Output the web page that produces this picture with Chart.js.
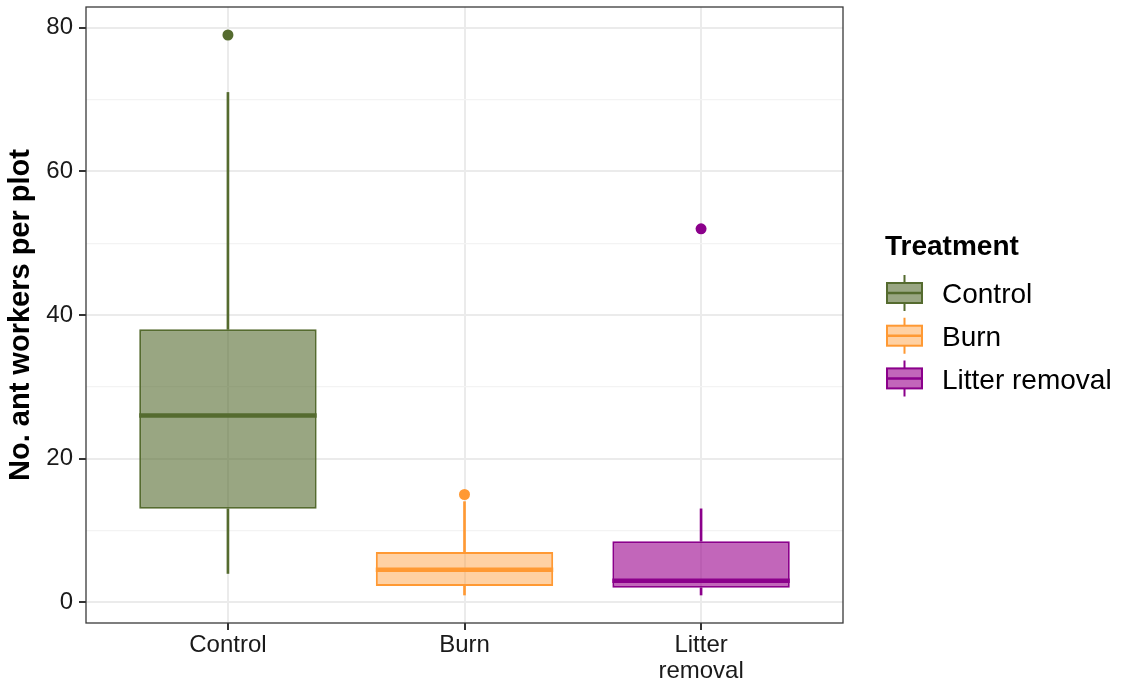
<!DOCTYPE html>
<html>
<head>
<meta charset="utf-8">
<script src="https://cdn.jsdelivr.net/npm/chart.js@4"></script>
<style>
  html, body { margin: 0; padding: 0; background: #ffffff; }
  #wrap { width: 1128px; height: 690px; }
</style>
</head>
<body>
<div id="wrap"><canvas id="chart" width="1128" height="690"></canvas></div>
<script>
// Ant worker counts per plot, summarised as box plots per treatment
const treatments = ['Control', 'Burn', 'Litter removal'];
const axisLabels = [['Control'], ['Burn'], ['Litter', 'removal']];
const whiskerLow = [4, 1, 1];
const lowerQuartile = [13, 2.25, 2];
const medians = [26, 4.5, 3];
const upperQuartile = [38, 7, 8.5];
const whiskerHigh = [71, 14, 13];
const outlierValues = [79, 15, 52];
const yMajorTicks = [0, 20, 40, 60, 80];
const yMinorTicks = [10, 30, 50, 70];

const lineColors = ['#556B2F', '#FF9933', '#8B008B'];
const fillColors = ['rgba(85,107,47,0.6)', 'rgba(255,153,51,0.45)', 'rgba(153,0,140,0.6)'];
const FONT = "'Liberation Sans', Arial, Helvetica, sans-serif";

Chart.defaults.font.family = FONT;
Chart.defaults.color = '#1a1a1a';

const positions = treatments.map((_, i) => i + 1);

const boxSets = treatments.map((name, i) => ({
  type: 'bar',
  label: name,
  data: [{ x: positions[i], y: [lowerQuartile[i], upperQuartile[i]] }],
  backgroundColor: fillColors[i],
  borderColor: lineColors[i],
  borderWidth: 2,
  borderSkipped: false,
  grouped: false,
  categoryPercentage: 1,
  barPercentage: 0.75,
  order: 2
}));

const lowerWhiskers = {
  type: 'bar',
  label: 'lower whisker',
  data: positions.map((p, i) => ({ x: p, y: [whiskerLow[i], lowerQuartile[i]] })),
  backgroundColor: lineColors,
  borderWidth: 0,
  barThickness: 2,
  grouped: false,
  order: 3
};

const upperWhiskers = {
  type: 'bar',
  label: 'upper whisker',
  data: positions.map((p, i) => ({ x: p, y: [upperQuartile[i], whiskerHigh[i]] })),
  backgroundColor: lineColors,
  borderWidth: 0,
  barThickness: 2,
  grouped: false,
  order: 3
};

const outlierSet = {
  type: 'scatter',
  label: 'outliers',
  data: positions.map((p, i) => ({ x: p, y: outlierValues[i] })),
  pointBackgroundColor: lineColors,
  pointBorderWidth: 0,
  pointRadius: 5.5,
  order: 1
};

// Median bars across each box, plus the panel frame on top of the data
const boxDetails = {
  id: 'boxDetails',
  afterDatasetsDraw(chart) {
    const { ctx, chartArea, scales: { y } } = chart;
    ctx.save();
    treatments.forEach((_, i) => {
      const bar = chart.getDatasetMeta(i).data[0];
      const half = bar.width / 2;
      const py = y.getPixelForValue(medians[i]);
      ctx.strokeStyle = lineColors[i];
      ctx.lineWidth = 4.5;
      ctx.beginPath();
      ctx.moveTo(bar.x - half, py);
      ctx.lineTo(bar.x + half, py);
      ctx.stroke();
    });
    ctx.strokeStyle = '#3a3a3a';
    ctx.lineWidth = 1.3;
    ctx.strokeRect(chartArea.left, chartArea.top, chartArea.width, chartArea.height);
    ctx.restore();
  }
};

// Legend with small box-plot keys
const treatmentLegend = {
  id: 'treatmentLegend',
  afterDraw(chart) {
    const { ctx, chartArea } = chart;
    const mid = (chartArea.top + chartArea.bottom) / 2;
    const left = chartArea.right + 42;
    ctx.save();
    ctx.fillStyle = '#000000';
    ctx.font = 'bold 28px ' + FONT;
    ctx.textBaseline = 'alphabetic';
    ctx.textAlign = 'left';
    ctx.fillText('Treatment', left, mid - 60);

    const keyW = 35, keyH = 20, stub = 8, step = 42.7;
    treatments.forEach((name, i) => {
      const cy = mid - 22 + i * step;
      const kx = left + 2;
      const cx = kx + keyW / 2;
      ctx.strokeStyle = lineColors[i];
      ctx.lineWidth = 2;
      ctx.beginPath();
      ctx.moveTo(cx, cy - keyH / 2 - stub);
      ctx.lineTo(cx, cy - keyH / 2);
      ctx.moveTo(cx, cy + keyH / 2);
      ctx.lineTo(cx, cy + keyH / 2 + stub);
      ctx.stroke();
      ctx.fillStyle = fillColors[i];
      ctx.fillRect(kx, cy - keyH / 2, keyW, keyH);
      ctx.strokeRect(kx, cy - keyH / 2, keyW, keyH);
      ctx.lineWidth = 2.5;
      ctx.beginPath();
      ctx.moveTo(kx, cy);
      ctx.lineTo(kx + keyW, cy);
      ctx.stroke();

      ctx.fillStyle = '#000000';
      ctx.font = '28px ' + FONT;
      ctx.fillText(name, left + 57, cy + 10.2);
    });
    ctx.restore();
  }
};

const isMajor = v => yMajorTicks.includes(v);

new Chart(document.getElementById('chart'), {
  type: 'bar',
  data: { datasets: [...boxSets, lowerWhiskers, upperWhiskers, outlierSet] },
  options: {
    responsive: false,
    animation: false,
    layout: { padding: { left: 0, top: 7, right: 285, bottom: 0 } },
    plugins: {
      legend: { display: false },
      tooltip: { enabled: false }
    },
    scales: {
      x: {
        type: 'linear',
        min: 0.4,
        max: 3.6,
        offset: false,
        afterBuildTicks: s => { s.ticks = positions.map(v => ({ value: v })); },
        afterFit: s => { s.height = 67; s.paddingLeft = 0; s.paddingRight = 0; },
        ticks: {
          autoSkip: false,
          maxRotation: 0,
          padding: 2,
          color: '#1a1a1a',
          font: { size: 24, lineHeight: 1.08 },
          callback: v => axisLabels[Math.round(v) - 1]
        },
        grid: {
          offset: false,
          color: '#EBEBEB',
          lineWidth: 2,
          drawTicks: true,
          tickLength: 7,
          tickColor: '#333333',
          tickWidth: 2
        },
        border: { display: false }
      },
      y: {
        type: 'linear',
        min: -2.9,
        max: 82.9,
        afterBuildTicks: s => {
          s.ticks = [...yMinorTicks, ...yMajorTicks].sort((a, b) => a - b).map(v => ({ value: v }));
        },
        afterFit: s => { s.width = 86; s.paddingTop = 0; s.paddingBottom = 0; },
        ticks: {
          autoSkip: false,
          padding: 6,
          color: '#1a1a1a',
          font: { size: 24 },
          callback: v => (isMajor(v) ? String(v) : '')
        },
        grid: {
          color: ctx => (ctx.tick && isMajor(ctx.tick.value) ? '#EBEBEB' : '#F3F3F3'),
          lineWidth: ctx => (ctx.tick && isMajor(ctx.tick.value) ? 2 : 1.3),
          drawTicks: true,
          tickLength: 7,
          tickColor: ctx => (ctx.tick && isMajor(ctx.tick.value) ? '#333333' : 'rgba(0,0,0,0)'),
          tickWidth: 2
        },
        border: { display: false },
        title: {
          display: true,
          text: 'No. ant workers per plot',
          color: '#000000',
          font: { size: 29, weight: 'bold' },
          padding: { top: 4, bottom: 0 }
        }
      }
    }
  },
  plugins: [boxDetails, treatmentLegend]
});
</script>
</body>
</html>
